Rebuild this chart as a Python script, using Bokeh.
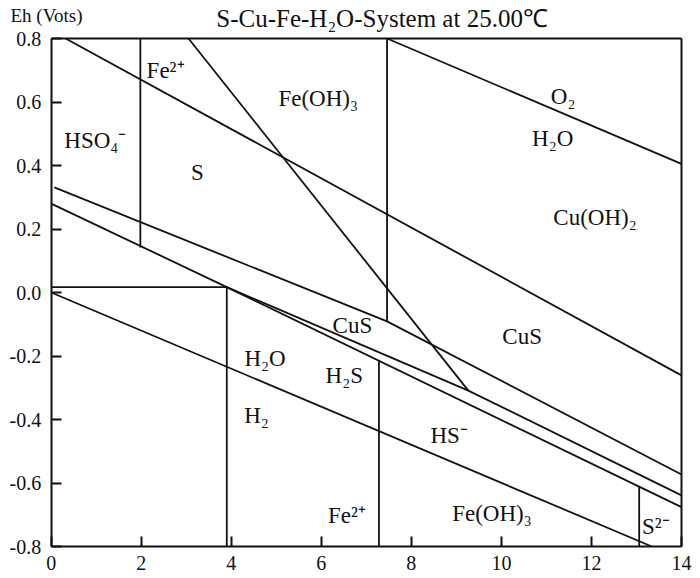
from bokeh.plotting import figure
from bokeh.models import Range1d, FixedTicker, NumeralTickFormatter, Label, ColumnDataSource, LinearAxis
from bokeh.core.properties import value
from bokeh.embed import file_html
from bokeh.resources import INLINE

# ---- data (pH, Eh in volts) ----
so4_s_x = [0.32, 14.0]
so4_s_y = [0.80, -0.261]
o2_h2o_x = [7.46, 14.0]
o2_h2o_y = [0.80, 0.405]
fe_diag_x = [3.05, 9.265]
fe_diag_y = [0.80, -0.309]
v_hso4_x = [1.98, 1.98]
v_hso4_y = [0.80, 0.142]
v_cu_x = [7.46, 7.46]
v_cu_y = [0.80, -0.091]
line_c_x = [0.07, 7.46, 14.0]
line_c_y = [0.331, -0.091, -0.573]
line_d_x = [0.0, 3.9, 14.0]
line_d_y = [0.28, 0.017, -0.676]
line_e_x = [3.9, 9.265, 14.0]
line_e_y = [0.017, -0.309, -0.639]
h_fe_x = [0.0, 3.9]
h_fe_y = [0.017, 0.017]
v_fe_x = [3.9, 3.9]
v_fe_y = [0.017, -0.80]
v_h2s_x = [7.28, 7.28]
v_h2s_y = [-0.215, -0.80]
v_hs_x = [13.06, 13.06]
v_hs_y = [-0.611, -0.80]
h2o_h2_x = [0.0, 13.34]
h2o_h2_y = [0.0, -0.80]

label_text = ["Fe²⁺", "Fe(OH)₃", "HSO₄⁻", "S", "O₂", "H₂O", "Cu(OH)₂",
              "CuS", "CuS", "H₂O", "H₂", "H₂S", "HS⁻", "Fe²⁺", "Fe(OH)₃", "S²⁻"]
label_x = [2.54, 5.93, 0.98, 3.25, 11.37, 11.14, 12.08,
           10.46, 6.69, 4.75, 4.56, 6.51, 8.84, 6.57, 9.79, 13.43]
label_y = [0.70, 0.611, 0.479, 0.378, 0.617, 0.485, 0.236,
           -0.139, -0.104, -0.208, -0.387, -0.261, -0.45, -0.702, -0.696, -0.737]

x_ticks = [0, 2, 4, 6, 8, 10, 12, 14]
y_ticks = [-0.8, -0.6, -0.4, -0.2, 0.0, 0.2, 0.4, 0.6, 0.8]

title_text = "S-Cu-Fe-H₂O-System at 25.00℃"
ylabel_text = "Eh (Vots)"

# ---- layout ----
W, H = 698, 576
PAD_L, PAD_R, PAD_T, PAD_B = 50.7, 17.0, 38.0, 30.0   # pixels around the pH/Eh box
X0, X1 = x_ticks[0], x_ticks[-1]
Y0, Y1 = y_ticks[0], y_ticks[-1]
px_x = (W - PAD_L - PAD_R) / (X1 - X0)
px_y = (H - PAD_T - PAD_B) / (Y1 - Y0)

FONT = "Liberation Serif"
INK = "#111111"

p = figure(width=W, height=H, output_backend="svg", toolbar_location=None,
           x_range=Range1d(X0 - PAD_L / px_x, X1 + PAD_R / px_x),
           y_range=Range1d(Y0 - PAD_B / px_y, Y1 + PAD_T / px_y),
           min_border=0, min_border_left=0, min_border_right=0,
           min_border_top=0, min_border_bottom=0)
p.title = None
p.grid.visible = False
p.background_fill_color = "white"
p.border_fill_color = "white"
p.outline_line_color = None

xa = p.xaxis[0]
ya = p.yaxis[0]
xa.fixed_location = Y0
ya.fixed_location = X0
xa.bounds = (X0, X1)
ya.bounds = (Y0, Y1)
for ax in (xa, ya):
    ax.axis_line_width = 2
    ax.axis_line_color = INK
    ax.major_tick_line_color = INK
    ax.major_tick_line_width = 2
    ax.major_tick_in = 10
    ax.major_tick_out = 0
    ax.minor_tick_line_color = None
    ax.major_label_text_font = FONT
    ax.major_label_text_font_size = "20px"
    ax.major_label_text_color = INK
xa.ticker = FixedTicker(ticks=x_ticks)
ya.ticker = FixedTicker(ticks=y_ticks)
ya.formatter = NumeralTickFormatter(format="0.0")
xa.major_label_standoff = 9
ya.major_label_standoff = 10

# top and right edges of the box
top_ax = LinearAxis(fixed_location=Y1, bounds=(X0, X1), ticker=FixedTicker(ticks=[]),
                    axis_line_width=2, axis_line_color=INK, major_label_text_color=None,
                    major_tick_line_color=None, minor_tick_line_color=None)
right_ax = LinearAxis(fixed_location=X1, bounds=(Y0, Y1), ticker=FixedTicker(ticks=[]),
                      axis_line_width=2, axis_line_color=INK, major_label_text_color=None,
                      major_tick_line_color=None, minor_tick_line_color=None)
p.add_layout(top_ax, "above")
p.add_layout(right_ax, "right")

xs = [so4_s_x, o2_h2o_x, fe_diag_x, v_hso4_x, v_cu_x, line_c_x, line_d_x, line_e_x,
      h_fe_x, v_fe_x, v_h2s_x, v_hs_x, h2o_h2_x]
ys = [so4_s_y, o2_h2o_y, fe_diag_y, v_hso4_y, v_cu_y, line_c_y, line_d_y, line_e_y,
      h_fe_y, v_fe_y, v_h2s_y, v_hs_y, h2o_h2_y]
p.multi_line(xs=xs, ys=ys, line_color=INK, line_width=1.8)

src = ColumnDataSource(dict(x=label_x, y=label_y, text=label_text))
p.text(x="x", y="y", text="text", source=src, text_font=value(FONT),
       text_font_size="23px", text_align="center", text_baseline="middle", text_color=INK)

p.add_layout(Label(x=7.35, y=Y1 + 20 / px_y, text=title_text, text_font=FONT, text_font_size="25px",
                   text_align="center", text_baseline="middle", text_color=INK))
p.add_layout(Label(x=X0 - 40.7 / px_x, y=Y1 + 23 / px_y, text=ylabel_text, text_font=FONT,
                   text_font_size="19px", text_align="left", text_baseline="middle", text_color=INK))

open("out.html", "w").write(file_html(p, INLINE))
